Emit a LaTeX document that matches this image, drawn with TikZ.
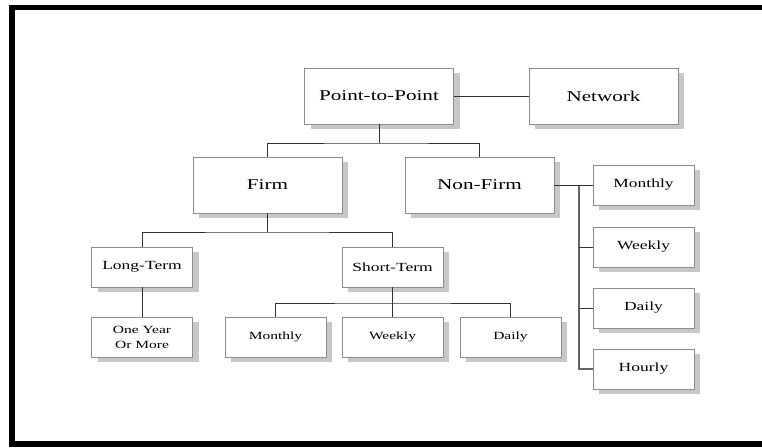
\documentclass[tikz,border=0pt]{standalone}
\usepackage{fontspec}
\usepackage{tikz}
\usetikzlibrary{shadows}
\newfontfamily\chartfont[FakeStretch=1.41]{Liberation Serif}
\definecolor{boxline}{gray}{0.55}
\definecolor{shade}{gray}{0.78}
\tikzset{
  box/.style={draw=boxline, fill=white, inner sep=0pt, align=center,
    drop shadow={shadow xshift=6pt, shadow yshift=-5pt, fill=shade, opacity=1}},
  bigbox/.style={box, minimum width=149pt, minimum height=56pt,
    font=\chartfont\fontsize{15}{18}\selectfont},
  midbox/.style={box, minimum width=101pt, minimum height=40pt,
    font=\chartfont\fontsize{12.4}{15}\selectfont},
  smallbox/.style={box, minimum width=101pt, minimum height=40pt,
    font=\chartfont\fontsize{11}{15}\selectfont},
  link/.style={draw=black!80, line width=0.9pt},
  trunkline/.style={draw=black!60, line width=1.6pt}
}

\begin{document}
\begin{tikzpicture}[x=1pt,y=-1pt]
    \useasboundingbox (0,0) rectangle (762,447);

    % Frame
    \fill (9,5) rectangle (762,10);
    \fill (9,5) rectangle (15,447);
    \fill (9,441) rectangle (762,447);

    % Top level
    \node[bigbox] (ptp) at (379,96) {Point-to-Point};
    \node[bigbox] (network) at (603.5,96) {Network};

    % Firm / Non-Firm
    \node[bigbox] (firm) at (267.5,185) {Firm};
    \node[bigbox] (nonfirm) at (479.5,185) {Non-Firm};

    % Firm branch
    \node[midbox] (longterm) at (142,267) {Long-Term};
    \node[midbox] (shortterm) at (392.5,267) {Short-Term};
    \node[smallbox] (oneyear) at (142,337) {One Year\\Or More};
    \node[smallbox] (stmonthly) at (275.5,337) {Monthly};
    \node[smallbox] (stweekly) at (392.5,337) {Weekly};
    \node[smallbox] (stdaily) at (510.5,337) {Daily};

    % Non-Firm branch
    \node[midbox] (nfmonthly) at (643.5,185) {Monthly};
    \node[midbox] (nfweekly) at (643.5,247) {Weekly};
    \node[midbox] (nfdaily) at (643.5,308) {Daily};
    \node[midbox] (nfhourly) at (643.5,369) {Hourly};

    % Connectors
    \coordinate (topbus) at (379,143);
    \coordinate (firmbus) at (267.5,232);
    \coordinate (stbus) at (392.5,303);
    \coordinate (trunk) at (579,185);

    \draw[link] (ptp) -- (network);
    \draw[link] (ptp.south) -- (topbus);
    \draw[link] (firm.north) |- (topbus) -| (nonfirm.north);

    \draw[link] (firm.south) -- (firmbus);
    \draw[link] (longterm.north) |- (firmbus) -| (shortterm.north);
    \draw[link] (longterm) -- (oneyear);

    \draw[link] (shortterm) -- (stweekly);
    \draw[link] (stmonthly.north) |- (stbus) -| (stdaily.north);

    \draw[trunkline] (trunk) |- (nfhourly.west);
    \draw[link] (nonfirm) -- (nfmonthly);
    \foreach \n in {nfweekly,nfdaily}
        \draw[link] (trunk |- \n.west) -- (\n.west);
\end{tikzpicture}
\end{document}
